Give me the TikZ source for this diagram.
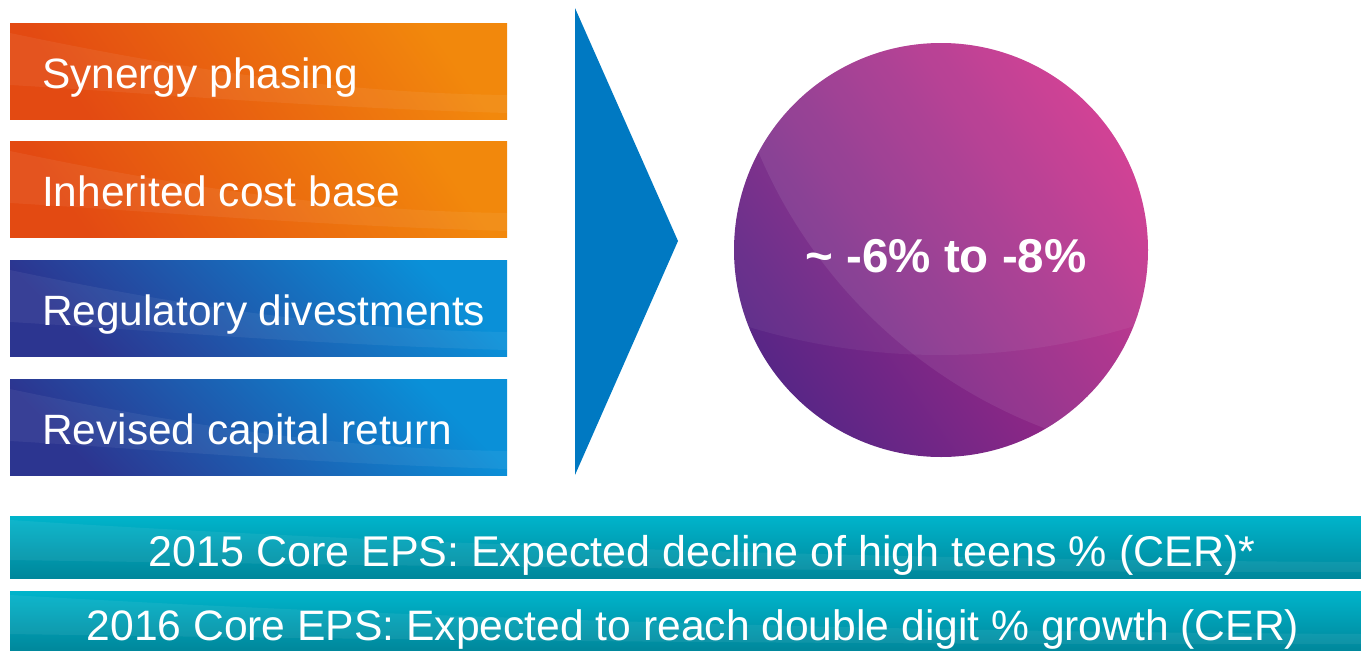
\documentclass[tikz,border=0pt]{standalone}
\usepackage{fontspec}
\setmainfont{Liberation Sans}
\usepackage{tikz}
\usetikzlibrary{calc}
\usetikzlibrary{positioning}
\definecolor{orDark}{HTML}{E34A12}
\definecolor{orMid}{HTML}{EC6A10}
\definecolor{orLight}{HTML}{F2880C}
\definecolor{blDark}{HTML}{2C3590}
\definecolor{blMid}{HTML}{1472C4}
\definecolor{blLight}{HTML}{0A90D8}
\definecolor{arrowblue}{HTML}{0079C2}
\definecolor{cPurple}{HTML}{582686}
\definecolor{cMid}{HTML}{9C2A8A}
\definecolor{cMagenta}{HTML}{CC2886}
\definecolor{tealTop}{HTML}{00B4CB}
\definecolor{tealBot}{HTML}{00879B}

\begin{document}
\begin{tikzpicture}[x=1pt,y=-1pt]
  % some styles
  \tikzset{
    box/.style={
      rectangle,
      anchor=north west,
      minimum width=497,
      minimum height=96,
      inner sep=0
    }
  }
  \tikzset{orangebox/.style={box,left color=orDark,middle color=orMid,right color=orLight,shading angle=125}}
  \tikzset{bluebox/.style={box,left color=blDark,middle color=blMid,right color=blLight,shading angle=135}}
  \tikzset{boxtext/.style={anchor=base west,text=white,inner sep=0,font=\fontsize{42.4}{50}\selectfont}}
  \tikzset{bar/.style={top color=tealTop,bottom color=tealBot}}
  \tikzset{bartext/.style={anchor=base,text=white,inner sep=0,font=\fontsize{43}{50}\selectfont}}
  \tikzset{swoosh/.style={white,opacity=.06}}

\useasboundingbox (0,0) rectangle (1361,651);

% left boxes
\foreach \y/\t/\s/\n in {23/Synergy phasing/orangebox/syn,
                         141/Inherited cost base/orangebox/inh,
                         260/Regulatory divestments/bluebox/reg,
                         379/Revised capital return/bluebox/rev} {
   \node[\s] (\n) at (10,\y) {};
   \begin{scope}
     \clip (\n.north west) rectangle (\n.south east);
     \fill[swoosh] (10,{\y+10}) .. controls (200,{\y+50}) and (350,{\y+70}) .. (507,{\y+72})
        -- (507,{\y+90}) .. controls (300,{\y+84}) and (150,{\y+70}) .. (10,{\y+62}) -- cycle;
   \end{scope}
   \node[boxtext] (\n-t) at (42,{\y+65}) {\t};
}

% arrow
\fill[arrowblue] (575,8) -- (678,241) -- (575,475) -- cycle;

% circle
\node[circle,minimum size=414,inner sep=0,left color=cPurple,middle color=cMid,right color=cMagenta,shading angle=125] (dip) at (941,250) {};
\begin{scope}
  \clip (941,250) circle (207);
  \fill[white,opacity=.05] (940,-307) circle (662);
  \fill[white,opacity=.08] (1224,-44) circle (505);
\end{scope}
\node[anchor=base,text=white,inner sep=0,font=\fontsize{47.5}{52}\selectfont\bfseries] (pct) at (946,272) {\textasciitilde{} -6\% to -8\%};

% bottom bars
\shade[bar] (10,516) rectangle (1361,578);
\shade[bar] (10,591) rectangle (1361,651);
\fill[swoosh] (10,520) .. controls (400,545) and (900,560) .. (1361,562) -- (1361,572) .. controls (900,572) and (400,566) .. (10,560) -- cycle;
\fill[swoosh] (10,595) .. controls (400,618) and (900,632) .. (1361,634) -- (1361,644) .. controls (900,645) and (400,640) .. (10,634) -- cycle;
\node[bartext] (eps15) at (702,566) {2015 Core EPS: Expected decline of high teens \% (CER)*};
\node[bartext,font=\fontsize{42.6}{50}\selectfont] (eps16) at (693,640) {2016 Core EPS: Expected to reach double digit \% growth (CER)};

\end{tikzpicture}
\end{document}
